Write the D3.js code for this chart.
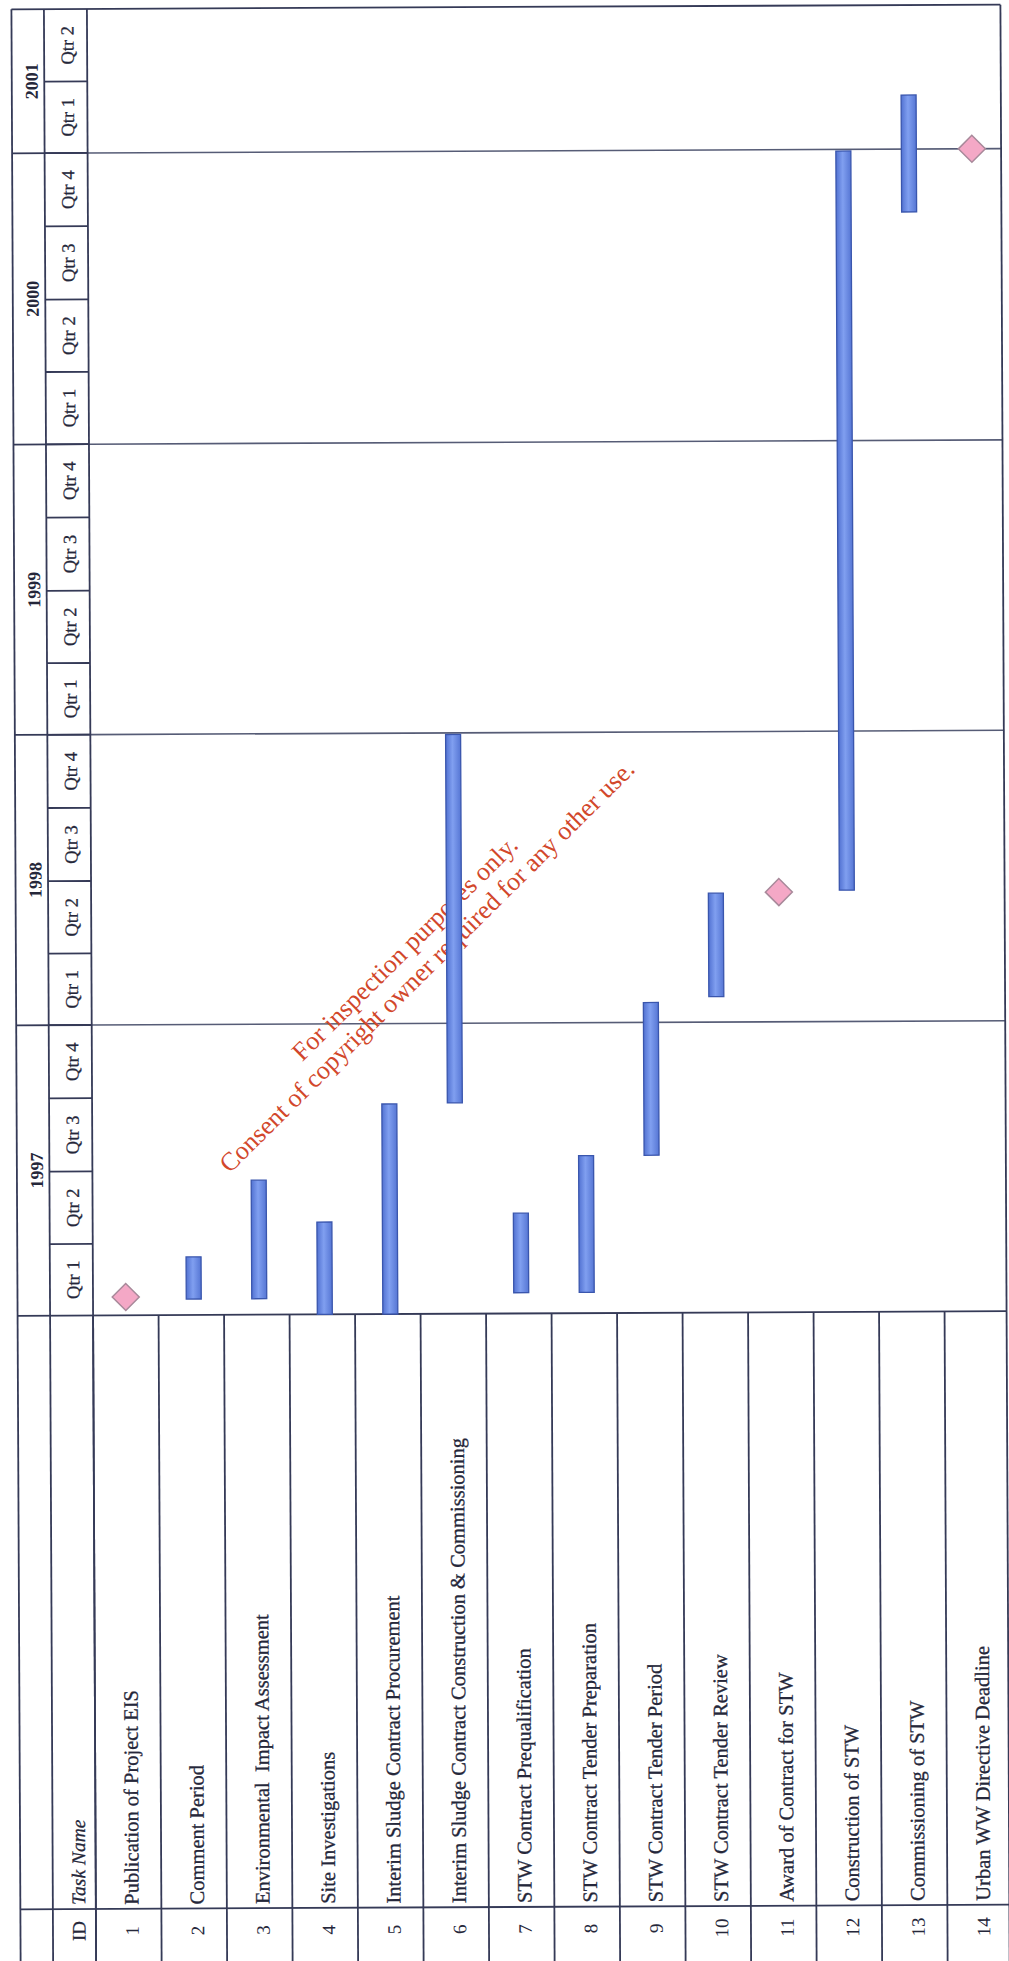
<!DOCTYPE html>
<html><head><meta charset="utf-8">
<script src="https://cdn.jsdelivr.net/npm/d3@7"></script>
<style>html,body{margin:0;padding:0;background:#fff;} svg{display:block}</style>
</head><body>
<svg id="chart" width="1009" height="1961"></svg>
<script>
// ---------------- data ----------------
const taskIds = [1,2,3,4,5,6,7,8,9,10,11,12,13,14];
const taskNames = [
  "Publication of Project EIS",
  "Comment Period",
  "Environmental  Impact Assessment",
  "Site Investigations",
  "Interim Sludge Contract Procurement",
  "Interim Sludge Contract Construction & Commissioning",
  "STW Contract Prequalification",
  "STW Contract Tender Preparation",
  "STW Contract Tender Period",
  "STW Contract Tender Review",
  "Award of Contract for STW",
  "Construction of STW",
  "Commissioning of STW",
  "Urban WW Directive Deadline"
];
const taskStarts = ["1997-01-24","1997-01-21","1997-01-21","1997-01-01","1997-01-01","1997-09-23","1997-01-27","1997-01-27","1997-07-18","1998-02-02","1998-06-13","1998-06-15","2000-10-14","2001-01-01"];
const taskEnds   = ["1997-01-24","1997-03-15","1997-06-19","1997-04-27","1997-09-22","1998-12-30","1997-05-07","1997-07-18","1998-01-26","1998-06-12","1998-06-13","2000-12-30","2001-03-10","2001-01-01"];
const yearLabels = ["1997","1998","1999","2000","2001"];
const quarterLabels = ["Qtr 1","Qtr 2","Qtr 3","Qtr 4"];
const timeStart = "1997-01-01";
const timeEnd = "2001-07-01";
const columnHeaders = ["ID","Task Name"];
const watermarkLines = ["For inspection purposes only.","Consent of copyright owner required for any other use."];

// ---------------- layout ----------------
const parse = d3.timeParse("%Y-%m-%d");
const X0 = 16, X1 = 48.5, X2 = 91.5, X3 = 1005;
const YT = 1313.5, YS = 1907, YB = 1975;
const lineCol = "#353a57";
const textCol = "#25273a";
const serif = "'Liberation Serif','Times New Roman',serif";

const t0 = parse(timeStart), t1 = parse(timeEnd);
const y = d3.scaleTime().domain([t0, t1]).range([YT, 7]);
const x = d3.scaleBand().domain(taskIds).range([X2, X2 + 65.5 * taskIds.length]);
const Y0 = y(t1);

const svg = d3.select("#chart");
const defs = svg.append("defs");
const grad = defs.append("linearGradient").attr("id","barGrad").attr("x1","0").attr("x2","1").attr("y1","0").attr("y2","0");
grad.append("stop").attr("offset","0%").attr("stop-color","#5272d2");
grad.append("stop").attr("offset","45%").attr("stop-color","#809ff0");
grad.append("stop").attr("offset","100%").attr("stop-color","#5676d4");
defs.append("clipPath").attr("id","pageClip").append("rect").attr("x",X0).attr("y",Y0).attr("width",X3-X0).attr("height",YB-Y0);

const root = svg.append("g").attr("transform","rotate(-0.27,504,980)");

const tasks = taskIds.map((id,i)=>({id, name:taskNames[i], start:parse(taskStarts[i]), end:parse(taskEnds[i])}));

// ---------------- timescale ----------------
const years = d3.timeYear.range(t0, t1);
const quarters = d3.timeMonth.every(3).range(t0, t1);
const ts = root.append("g");

ts.selectAll("text.year").data(years).join("text")
  .attr("class","year")
  .attr("transform", (d,i)=>{
    const a = d3.max([d,t0]), b = d3.min([d3.timeYear.offset(d,1), t1]);
    return `translate(42,${(y(a)+y(b))/2}) rotate(-90)`;
  })
  .attr("text-anchor","middle")
  .attr("font-family",serif).attr("font-size",18).attr("font-weight","bold")
  .attr("fill",textCol)
  .text((d,i)=>yearLabels[i]);

ts.selectAll("text.qtr").data(quarters).join("text")
  .attr("class","qtr")
  .attr("transform", d=>{
    const b = d3.min([d3.timeMonth.offset(d,3), t1]);
    return `translate(78,${(y(d)+y(b))/2}) rotate(-90)`;
  })
  .attr("text-anchor","middle")
  .attr("font-family",serif).attr("font-size",18.5)
  .attr("fill",textCol).attr("stroke",textCol).attr("stroke-width",0.25)
  .text(d=>quarterLabels[Math.floor(d.getMonth()/3)]);

ts.selectAll("line.q").data(quarters.slice(1)).join("line")
  .attr("x1",X1).attr("x2",X2).attr("y1",d=>y(d)).attr("y2",d=>y(d))
  .attr("stroke",lineCol).attr("stroke-width",1.8);

ts.selectAll("line.y").data(years.slice(1)).join("line")
  .attr("x1",X0).attr("x2",X2).attr("y1",d=>y(d)).attr("y2",d=>y(d))
  .attr("stroke",lineCol).attr("stroke-width",1.8);
ts.selectAll("line.yc").data(years.slice(1)).join("line")
  .attr("x1",X2).attr("x2",X3).attr("y1",d=>y(d)).attr("y2",d=>y(d))
  .attr("stroke","#565c76").attr("stroke-width",1.6);

// ---------------- table ----------------
const tb = root.append("g").attr("clip-path","url(#pageClip)");
tb.selectAll("line.row").data(taskIds).join("line")
  .attr("x1",d=>x(d)).attr("x2",d=>x(d)).attr("y1",YT).attr("y2",YB)
  .attr("stroke",lineCol).attr("stroke-width",1.8);
[[YT,X0,X3],[YS,X0,X3]].forEach(([yy,a,b])=>{
  tb.append("line").attr("x1",a).attr("x2",b).attr("y1",yy).attr("y2",yy)
    .attr("stroke",lineCol).attr("stroke-width",1.8);
});
[X0,X1,X2,X3].forEach(xx=>{
  root.append("line").attr("x1",xx).attr("x2",xx).attr("y1",Y0).attr("y2",YB)
    .attr("stroke",lineCol).attr("stroke-width",1.8);
});
root.append("line").attr("x1",X0).attr("x2",X3).attr("y1",Y0).attr("y2",Y0)
  .attr("stroke",lineCol).attr("stroke-width",1.8);

const idCenter = 1929;
tb.append("text").attr("transform",`translate(81,${idCenter}) rotate(-90)`)
  .attr("text-anchor","middle").attr("font-family",serif).attr("font-size",19)
  .attr("fill",textCol).attr("stroke",textCol).attr("stroke-width",0.25).text(columnHeaders[0]);
tb.append("text").attr("transform",`translate(81,${YS-4}) rotate(-90)`)
  .attr("text-anchor","start").attr("font-family",serif).attr("font-size",19.5).attr("font-style","italic")
  .attr("fill",textCol).attr("stroke",textCol).attr("stroke-width",0.25).text(columnHeaders[1]);

tb.selectAll("text.id").data(tasks).join("text").attr("class","id")
  .attr("transform",d=>`translate(${x(d.id)+x.bandwidth()/2+10},${idCenter}) rotate(-90)`)
  .attr("text-anchor","middle").attr("font-family",serif).attr("font-size",19)
  .attr("fill",textCol).text(d=>d.id);
tb.selectAll("text.name").data(tasks).join("text").attr("class","name")
  .attr("transform",d=>`translate(${x(d.id)+x.bandwidth()/2+10},${YS-4}) rotate(-90)`)
  .attr("text-anchor","start").attr("font-family",serif).attr("font-size",20.5)
  .style("white-space","pre")
  .attr("fill",textCol).attr("stroke",textCol).attr("stroke-width",0.3).text(d=>d.name);

// ---------------- watermark ----------------
const wm = root.append("g");
wm.append("text").attr("transform","translate(411,954) rotate(-44.5)")
  .attr("text-anchor","middle").attr("font-family",serif).attr("font-size",26)
  .attr("fill","#d2472b").text(watermarkLines[0]);
wm.append("text").attr("transform","translate(433,972) rotate(-44.5)")
  .attr("text-anchor","middle").attr("font-family",serif).attr("font-size",26)
  .attr("fill","#d2472b").text(watermarkLines[1]);

// ---------------- bars ----------------
const bw = 15;
const bars = tasks.filter(d=>+d.start !== +d.end);
const miles = tasks.filter(d=>+d.start === +d.end);
root.selectAll("rect.bar").data(bars).join("rect").attr("class","bar")
  .attr("x",d=>x(d.id)+x.bandwidth()/2+2.5-bw/2)
  .attr("width",bw)
  .attr("y",d=>y(d.end))
  .attr("height",d=>y(d.start)-y(d.end))
  .attr("fill","url(#barGrad)").attr("stroke","#3a56ad").attr("stroke-width",1.3);
const ds = 13.5;
root.selectAll("path.mile").data(miles).join("path").attr("class","mile")
  .attr("d",d=>{
    const cx = x(d.id)+x.bandwidth()/2, cy = y(d.start);
    return `M${cx},${cy-ds}L${cx+ds},${cy}L${cx},${cy+ds}L${cx-ds},${cy}Z`;
  })
  .attr("fill","#f4a8c6").attr("stroke","#a8899a").attr("stroke-width",1.5);
</script>
</body></html>
